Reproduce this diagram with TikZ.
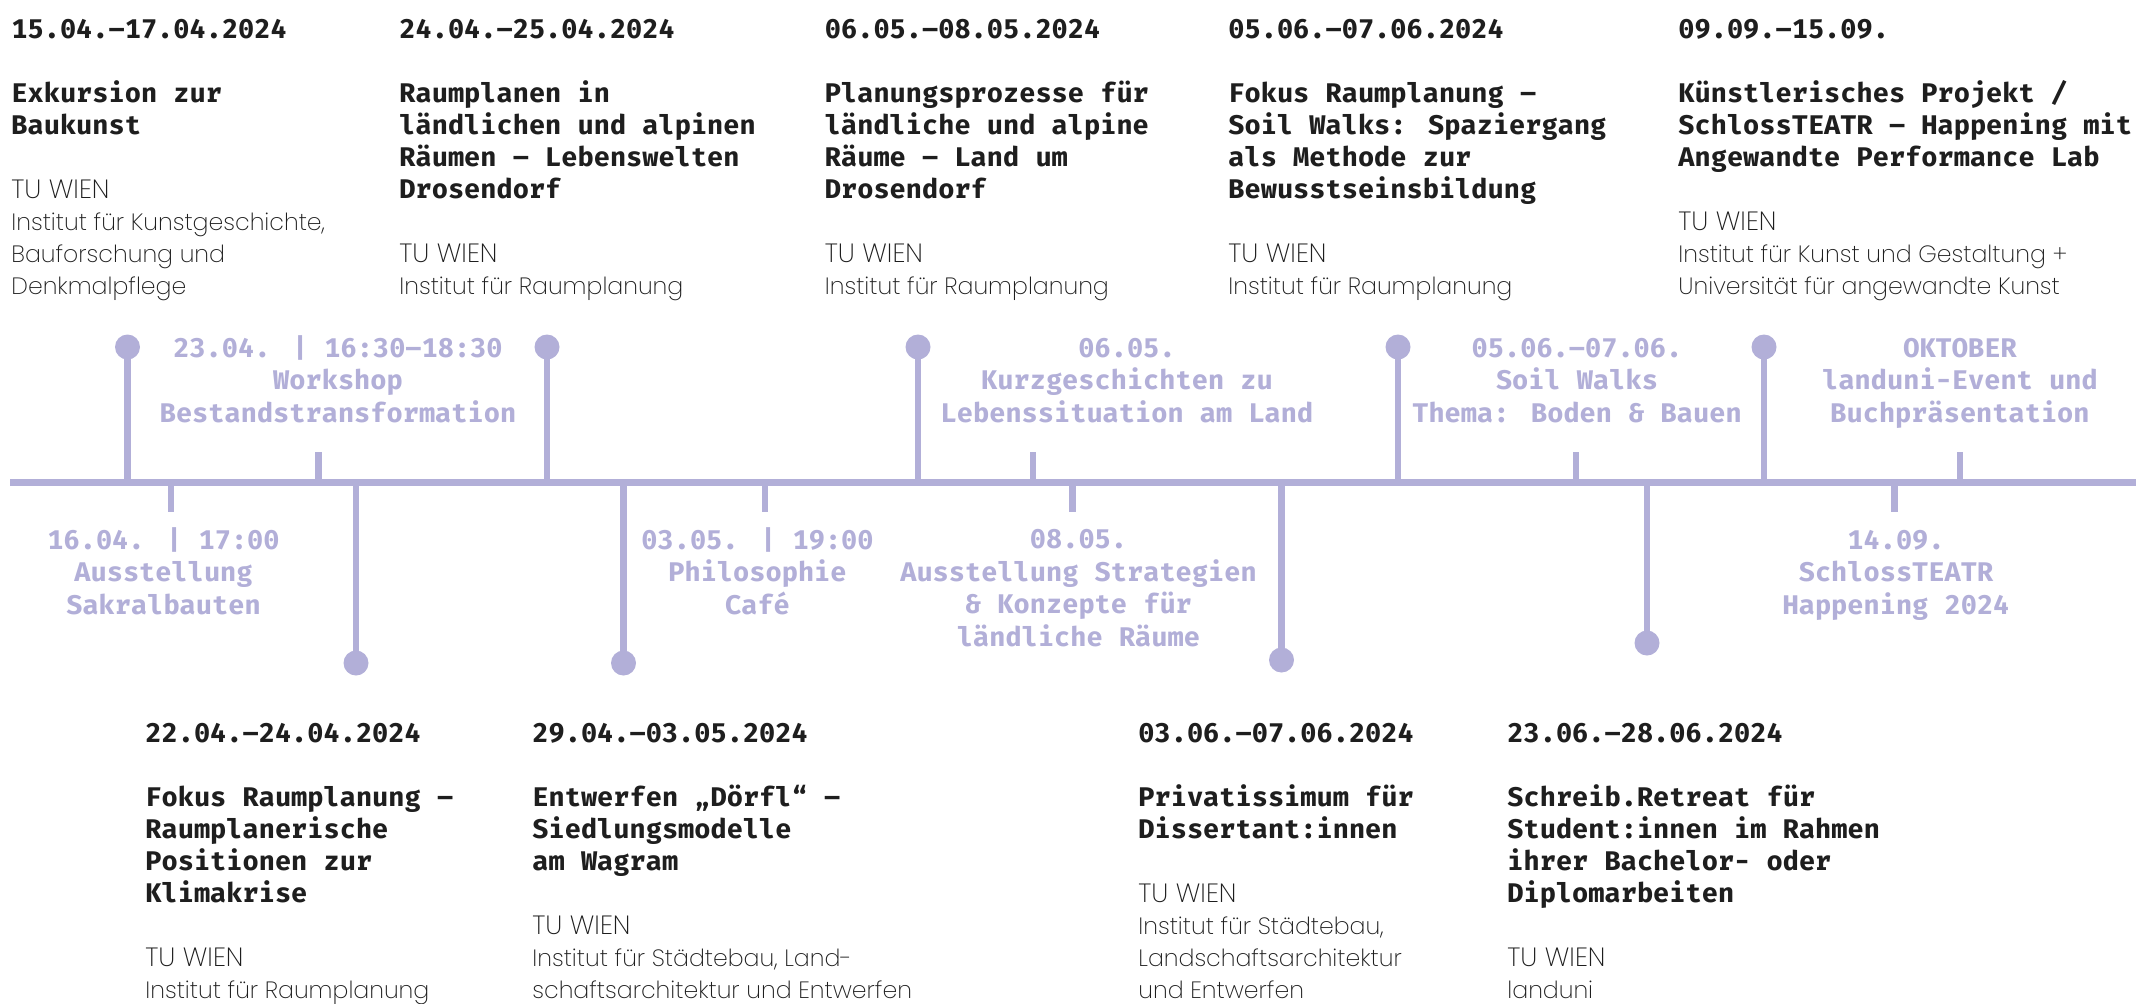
\documentclass[tikz,border=0pt]{standalone}
\usepackage{fontspec}
\IfFontExistsTF{Fira Mono}{%
  \IfFontExistsTF{Fira Mono Bold}%
    {\newfontfamily\monof{Fira Mono}[BoldFont={Fira Mono Bold}]}%
    {\newfontfamily\monof{Fira Mono}}}%
  {\newfontfamily\monof{DejaVu Sans Mono}}
\IfFontExistsTF{Poppins ExtraLight}{\newfontfamily\lightf{Poppins ExtraLight}\def\lightsize{11.8}}{%
  \IfFontExistsTF{Poppins Light}{\newfontfamily\lightf{Poppins Light}\def\lightsize{11.35}}{%
    \newfontfamily\lightf{Liberation Sans}\def\lightsize{11.5}}}
\newcommand{\tuw}{{\fontsize{13.2}{16}\selectfont TU WIEN}}
\definecolor{lav}{HTML}{B2AFD8}
\definecolor{ink}{HTML}{1E1E1E}
\begin{document}
\begin{tikzpicture}[x=0.5pt,y=-0.5pt,
  axis/.style={draw=lav,line width=3.5pt},
  stem/.style={draw=lav,line width=3.4pt},
  dot/.style={circle,fill=lav,inner sep=0pt,minimum size=12.5pt},
  blk/.style={anchor=base west,inner sep=0pt,text=ink,align=left,
    font=\monof\bfseries\fontsize{13.5}{16}\selectfont},
  org/.style={anchor=base west,inner sep=0pt,text=ink,align=left,
    font=\lightf\fontsize{\lightsize}{16}\selectfont},
  ev/.style={anchor=base,inner sep=0pt,text=lav,align=center,
    font=\monof\bfseries\fontsize{13.5}{16.25}\selectfont}]
\useasboundingbox (0,0) rectangle (2149,1003);

% main axis
\coordinate (L) at (10,482);
\coordinate (R) at (2136,482);
\draw[axis] (L) -- (R);

% pins upward
\foreach \i/\x in {1/127.5,2/547,3/918,4/1398,5/1764}{
  \coordinate (ua\i) at (\x,485);
  \node[dot] (ud\i) at (\x,347) {};
  \draw[stem] (ua\i) -- (ud\i.center);
}
% pins downward
\foreach \i/\x/\y in {1/356/663,2/623.5/663,3/1281.5/660,4/1647/643}{
  \coordinate (da\i) at (\x,479);
  \node[dot] (dd\i) at (\x,\y) {};
  \draw[stem] (da\i) -- (dd\i.center);
}
% short ticks
\foreach \i/\x in {1/318.5,2/1033,3/1576,4/1960}{
  \coordinate (ts\i) at (\x,452);
  \coordinate (te\i) at (\x,482);
  \draw[stem] (ts\i) -- (te\i);
}
\foreach \i/\x in {1/171,2/765,3/1072.5,4/1894.5}{
  \coordinate (bs\i) at (\x,482);
  \coordinate (be\i) at (\x,512);
  \draw[stem] (bs\i) -- (be\i);
}

% event labels above (anchored at baseline of last line)
\node[ev] (e1) at (338,422) {23.04. | 16:30–18:30\\Workshop\\Bestandstransformation};
\node[ev] (e2) at (1127,422) {06.05.\\Kurzgeschichten zu\\Lebenssituation am Land};
\node[ev] (e3) at (1577,422) {05.06.–07.06.\\Soil Walks\\Thema: Boden \& Bauen};
\node[ev] (e4) at (1960,422) {OKTOBER\\landuni-Event und\\Buchpräsentation};
% event labels below
\node[ev] (e5) at (163.5,614) {16.04. | 17:00\\Ausstellung\\Sakralbauten};
\node[ev] (e6) at (757.5,614) {03.05. | 19:00\\Philosophie\\Café};
\node[ev] (e7) at (1078.5,646) {08.05.\\Ausstellung Strategien\\\& Konzepte für\\ländliche Räume};
\node[ev] (e8) at (1896,614) {14.09.\\SchlossTEATR\\Happening 2024};

% top columns
\node[blk] (tD1) at (11,38.5) {15.04.–17.04.2024};
\node[blk] (tT1) at (11,134.5) {Exkursion zur\\Baukunst};
\node[org] (tO1) at (11,294.5) {\tuw\\Institut für Kunstgeschichte,\\Bauforschung und\\Denkmalpflege};

\node[blk] (tD2) at (399,38.5) {24.04.–25.04.2024};
\node[blk] (tT2) at (399,198.5) {Raumplanen in\\ländlichen und alpinen\\Räumen – Lebenswelten\\Drosendorf};
\node[org] (tO2) at (399,294.5) {\tuw\\Institut für Raumplanung};

\node[blk] (tD3) at (824.5,38.5) {06.05.–08.05.2024};
\node[blk] (tT3) at (824.5,198.5) {Planungsprozesse für\\ländliche und alpine\\Räume – Land um\\Drosendorf};
\node[org] (tO3) at (824.5,294.5) {\tuw\\Institut für Raumplanung};

\node[blk] (tD4) at (1228,38.5) {05.06.–07.06.2024};
\node[blk] (tT4) at (1228,198.5) {Fokus Raumplanung –\\Soil Walks: Spaziergang\\als Methode zur\\Bewusstseinsbildung};
\node[org] (tO4) at (1228,294.5) {\tuw\\Institut für Raumplanung};

\node[blk] (tD5) at (1678,38.5) {09.09.–15.09.};
\node[blk] (tT5) at (1678,166.5) {Künstlerisches Projekt /\\SchlossTEATR – Happening mit\\Angewandte Performance Lab};
\node[org] (tO5) at (1678,294.5) {\tuw\\Institut für Kunst und Gestaltung +\\Universität für angewandte Kunst};

% bottom columns
\node[blk] (bD1) at (145,742) {22.04.–24.04.2024};
\node[blk] (bT1) at (145,902) {Fokus Raumplanung –\\Raumplanerische\\Positionen zur\\Klimakrise};
\node[org] (bO1) at (145,998) {\tuw\\Institut für Raumplanung};

\node[blk] (bD2) at (532,742) {29.04.–03.05.2024};
\node[blk] (bT2) at (532,870) {Entwerfen „Dörfl“ –\\Siedlungsmodelle\\am Wagram};
\node[org] (bO2) at (532,998) {\tuw\\Institut für Städtebau, Land-\\schaftsarchitektur und Entwerfen};

\node[blk] (bD3) at (1138,742) {03.06.–07.06.2024};
\node[blk] (bT3) at (1138,838) {Privatissimum für\\Dissertant:innen};
\node[org] (bO3) at (1138,998) {\tuw\\Institut für Städtebau,\\Landschaftsarchitektur\\und Entwerfen};

\node[blk] (bD4) at (1507,742) {23.06.–28.06.2024};
\node[blk] (bT4) at (1507,902) {Schreib.Retreat für\\Student:innen im Rahmen\\ihrer Bachelor- oder\\Diplomarbeiten};
\node[org] (bO4) at (1507,998) {\tuw\\landuni};
\end{tikzpicture}
\end{document}
